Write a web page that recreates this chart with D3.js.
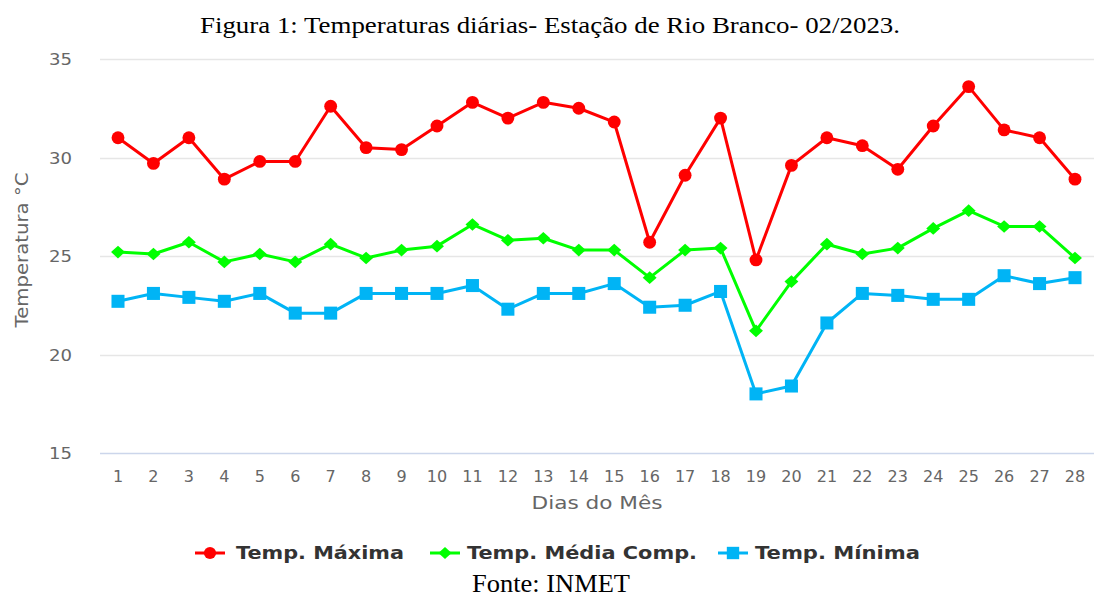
<!DOCTYPE html>
<html>
<head>
<meta charset="utf-8">
<script src="https://cdn.jsdelivr.net/npm/d3@7"></script>
<style>
  body { margin: 0; background: #fff; }
  svg { display: block; }
</style>
</head>
<body>
<svg id="chart" width="1094" height="597"></svg>
<script>
// data
const days = d3.range(1, 29);
const tMax = [31.0, 29.7, 31.0, 28.9, 29.8, 29.8, 32.6, 30.5, 30.4, 31.6, 32.8, 32.0, 32.8, 32.5,
  31.8, 25.7, 29.1, 32.0, 24.8, 29.6, 31.0, 30.6, 29.4, 31.6, 33.6, 31.4, 31.0, 28.9];
const tMed = [25.2, 25.1, 25.7, 24.7, 25.1, 24.7, 25.6, 24.9, 25.3, 25.5, 26.6, 25.8, 25.9, 25.3,
  25.3, 23.9, 25.3, 25.4, 21.2, 23.7, 25.6, 25.1, 25.4, 26.4, 27.3, 26.5, 26.5, 24.9];
const tMin = [22.7, 23.1, 22.9, 22.7, 23.1, 22.1, 22.1, 23.1, 23.1, 23.1, 23.5, 22.3, 23.1, 23.1,
  23.6, 22.4, 22.5, 23.2, 18.0, 18.4, 21.6, 23.1, 23.0, 22.8, 22.8, 24.0, 23.6, 23.9];
const yTicks = [15, 20, 25, 30, 35];

// highcharts-like diamond: a square turned 45 degrees
const wideDiamond = {
  draw(ctx, size) {
    const r = Math.sqrt(size / 2);
    ctx.moveTo(0, -r);
    ctx.lineTo(r * 1.1, 0);
    ctx.lineTo(0, r);
    ctx.lineTo(-r * 1.1, 0);
    ctx.closePath();
  },
};

const series = [
  { name: 'Temp. Máxima', values: tMax, color: '#ff0000', symbol: d3.symbolCircle, size: 130, lx: 210, tx: 236, tw: 168 },
  { name: 'Temp. Média Comp.', values: tMed, color: '#00ff00', symbol: wideDiamond, size: 80, lx: 445, tx: 467, tw: 230 },
  { name: 'Temp. Mínima', values: tMin, color: '#00b4f5', symbol: d3.symbolSquare, size: 170, lx: 733, tx: 755, tw: 165 },
];

const svg = d3.select('#chart');
const plot = { left: 100, right: 1094, top: 59, bottom: 453 };

const x = d3.scaleLinear().domain([1, 28]).range([118, 1075]);
const y = d3.scaleLinear().domain([15, 35]).range([plot.bottom, plot.top]);

// title
svg.append('text')
  .attr('x', 550).attr('y', 33)
  .attr('text-anchor', 'middle')
  .attr('font-family', '"Liberation Serif", "Times New Roman", serif')
  .attr('font-size', 24)
  .attr('textLength', 700).attr('lengthAdjust', 'spacingAndGlyphs')
  .text('Figura 1: Temperaturas diárias- Estação de Rio Branco- 02/2023.');

// grid
svg.append('g').selectAll('line')
  .data(yTicks)
  .join('line')
  .attr('x1', plot.left).attr('x2', plot.right)
  .attr('y1', (d) => Math.round(y(d)) + 0.5).attr('y2', (d) => Math.round(y(d)) + 0.5)
  .attr('stroke', (d) => (d === 15 ? '#ccd6eb' : '#e6e6e6'))
  .attr('stroke-width', 1.5);

// y tick labels
svg.append('g').selectAll('text')
  .data(yTicks)
  .join('text')
  .attr('x', 72).attr('y', (d) => y(d) + 6)
  .attr('text-anchor', 'end')
  .attr('font-family', '"DejaVu Sans", sans-serif')
  .attr('font-size', 16)
  .attr('fill', '#666')
  .attr('textLength', 23).attr('lengthAdjust', 'spacingAndGlyphs')
  .text((d) => d);

// x tick labels
svg.append('g').selectAll('text')
  .data(days)
  .join('text')
  .attr('x', (d) => x(d)).attr('y', 482)
  .attr('text-anchor', 'middle')
  .attr('font-family', '"DejaVu Sans", sans-serif')
  .attr('font-size', 16)
  .attr('fill', '#666')
  .text((d) => d);

// axis titles
svg.append('text')
  .attr('x', 597).attr('y', 509)
  .attr('text-anchor', 'middle')
  .attr('font-family', '"DejaVu Sans", sans-serif')
  .attr('font-size', 18)
  .attr('fill', '#666')
  .attr('textLength', 131).attr('lengthAdjust', 'spacingAndGlyphs')
  .text('Dias do Mês');

svg.append('text')
  .attr('transform', 'translate(28,250) rotate(-90)')
  .attr('text-anchor', 'middle')
  .attr('font-family', '"DejaVu Sans", sans-serif')
  .attr('font-size', 18)
  .attr('fill', '#666')
  .attr('textLength', 155).attr('lengthAdjust', 'spacingAndGlyphs')
  .text('Temperatura °C');

// lines + markers
const line = d3.line()
  .x((d, i) => x(days[i]))
  .y((d) => y(d));

series.forEach((s) => {
  const g = svg.append('g');
  g.append('path')
    .attr('d', line(s.values))
    .attr('fill', 'none')
    .attr('stroke', s.color)
    .attr('stroke-width', 3)
    .attr('stroke-linejoin', 'round');
  g.selectAll('path.pt')
    .data(s.values)
    .join('path')
    .attr('class', 'pt')
    .attr('transform', (d, i) => `translate(${x(days[i])},${y(d)})`)
    .attr('d', d3.symbol().type(s.symbol).size(s.size))
    .attr('fill', s.color);
});

// legend
const legend = svg.append('g');
series.forEach((s) => {
  legend.append('line')
    .attr('x1', s.lx - 15).attr('x2', s.lx + 15)
    .attr('y1', 553).attr('y2', 553)
    .attr('stroke', s.color).attr('stroke-width', 3);
  legend.append('path')
    .attr('transform', `translate(${s.lx},553)`)
    .attr('d', d3.symbol().type(s.symbol).size(s.size * 0.9))
    .attr('fill', s.color);
  legend.append('text')
    .attr('x', s.tx).attr('y', 559)
    .attr('font-family', '"DejaVu Sans", sans-serif')
    .attr('font-weight', 'bold')
    .attr('font-size', 17)
    .attr('fill', '#333')
    .attr('textLength', s.tw).attr('lengthAdjust', 'spacingAndGlyphs')
    .text(s.name);
});

// source
svg.append('text')
  .attr('x', 551).attr('y', 592)
  .attr('text-anchor', 'middle')
  .attr('font-family', '"Liberation Serif", "Times New Roman", serif')
  .attr('font-size', 26)
  .attr('textLength', 158).attr('lengthAdjust', 'spacingAndGlyphs')
  .text('Fonte: INMET');
</script>
</body>
</html>
